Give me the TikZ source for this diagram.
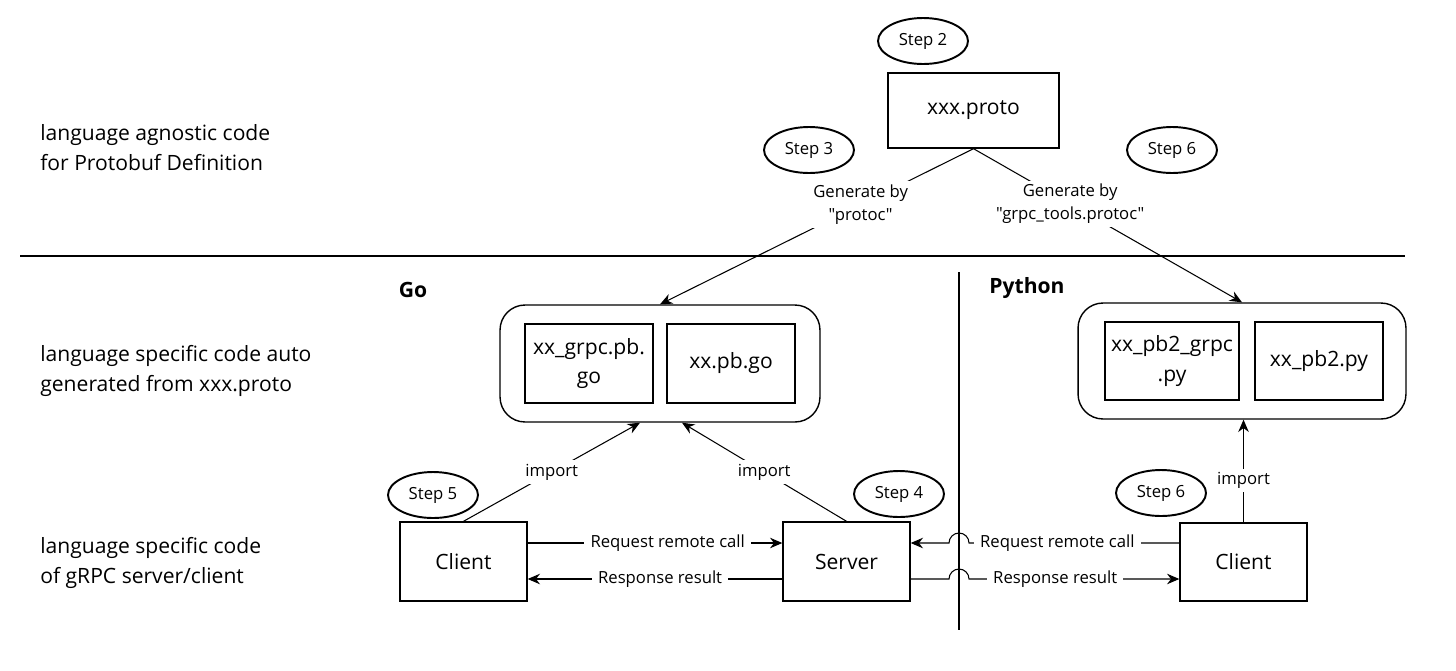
\documentclass[tikz,border=0pt]{standalone}
\usepackage{fontspec}
\setmainfont{Open Sans}[Ligatures=TeXOff]
\usetikzlibrary{arrows.meta,shapes.geometric,calc}

\begin{document}
\begin{tikzpicture}[x=0.02cm,y=-0.02cm,
  box/.style={draw,line width=0.8pt,align=center,inner sep=0pt,font=\fontsize{12}{17}\selectfont},
  grp/.style={draw,line width=0.8pt,rounded corners=0.5cm,inner sep=0pt},
  stepnode/.style={draw,ellipse,line width=1.1pt,minimum width=1.8cm,minimum height=0.92cm,inner sep=0pt,font=\fontsize{9.5}{12}\selectfont},
  lbl/.style={fill=white,inner xsep=3.5pt,inner ysep=2pt,align=center,font=\fontsize{9.5}{13}\selectfont},
  side/.style={anchor=west,align=left,inner sep=0pt,font=\fontsize{12}{17}\selectfont},
  lang/.style={font=\bfseries\fontsize{12}{14}\selectfont},
  arr/.style={-{Stealth[length=7pt,width=6pt]},line width=0.6pt},
  ln/.style={line width=0.6pt}]
\useasboundingbox (0,0) rectangle (1456,670);

% left column
\node[side] (agn) at (40,148) {language agnostic code\\for Protobuf Definition};
\node[side] (gen) at (40,371) {language specific code auto\\generated from xxx.proto};
\node[side] (rpc) at (40,563) {language specific code\\of gRPC server/client};

% dividers
\draw[ln] (20,256) -- (1405,256);
\draw[ln] (959,272) -- (959,630);
\node[lang] (go) at (413,290) {Go};
\node[lang] (py) at (1027,288) {Python};

% proto definition
\node[box,minimum width=3.42cm,minimum height=1.5cm] (proto) at (973.5,110.5) {xxx.proto};

% generated code
\node[grp,minimum width=6.4cm,minimum height=2.34cm] (gogrp) at (660,363.5) {};
\node[box,minimum width=2.56cm,minimum height=1.58cm] (gogrpc) at (589,363.5) {xx\_grpc.pb.\\go};
\node[box,minimum width=2.56cm,minimum height=1.58cm] (gopb) at (731,363.5) {xx.pb.go};
\node[grp,minimum width=6.56cm,minimum height=2.32cm] (pygrp) at (1242,361) {};
\node[box,minimum width=2.68cm,minimum height=1.56cm] (pygrpc) at (1172,361) {xx\_pb2\_grpc\\.py};
\node[box,minimum width=2.56cm,minimum height=1.56cm] (pypb) at (1319,361) {xx\_pb2.py};

% server / client
\node[box,minimum width=2.54cm,minimum height=1.58cm] (cli) at (463.5,561.5) {Client};
\node[box,minimum width=2.54cm,minimum height=1.58cm] (srv) at (846.5,561.5) {Server};
\node[box,minimum width=2.54cm,minimum height=1.56cm] (pycli) at (1243.5,562) {Client};

% steps
\foreach \n/\x/\y/\t in {stepb/923/41/2, stepc/809/150/3, stepf/1172/150/6,
  stepe/433/495/5, stepd/899/494/4, stepg/1161/493/6}
  \node[stepnode] (\n) at (\x,\y) {Step \t};

% generate
\draw[arr] (proto.south) -- node[lbl,pos=0.36] {Generate by\\"protoc"} (gogrp.north);
\draw[arr] (proto.south) -- node[lbl,pos=0.36] {Generate by\\"grpc\_tools.protoc"} (pygrp.north);

% import
\draw[arr] (cli.north) -- node[lbl] {import} ([xshift=-0.4cm]gogrp.south);
\draw[arr] (srv.north) -- node[lbl] {import} ([xshift=0.44cm]gogrp.south);
\draw[arr] (pycli.north) -- node[lbl,pos=0.41] {import} (pycli.north |- pygrp.south);

% calls
\coordinate (hopR) at (969,543);
\coordinate (hopS) at (949,579);
\draw[arr] (cli.east |- hopR) -- node[lbl,pos=0.55] {Request remote call} (srv.west |- hopR);
\draw[arr] (srv.west |- hopS) -- node[lbl,pos=0.48] {Response result} (cli.east |- hopS);
\draw[arr] (pycli.west |- hopR) -- node[lbl,pos=0.58] {Request remote call} (hopR)
  arc[start angle=0,end angle=180,radius=0.2cm] -- (srv.east |- hopR);
\draw[arr] (srv.east |- hopS) -- (hopS)
  arc[start angle=180,end angle=0,radius=0.2cm] -- node[lbl,pos=0.41] {Response result} (pycli.west |- hopS);
\end{tikzpicture}
\end{document}
